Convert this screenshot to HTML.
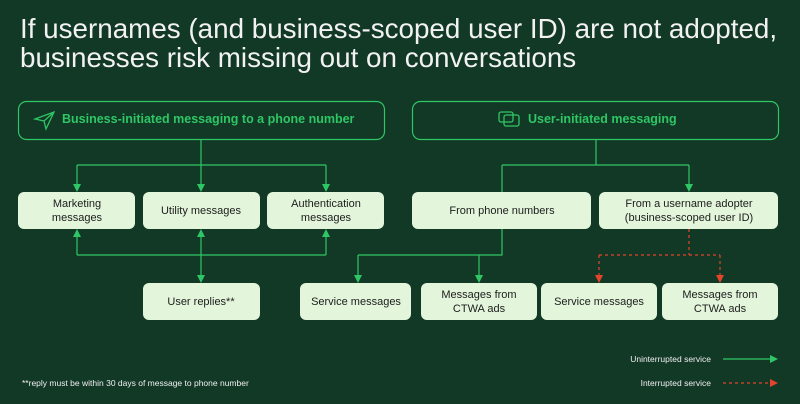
<!DOCTYPE html>
<html><head><meta charset="utf-8"><style>
html,body{margin:0;padding:0;background:#123826;}
svg{display:block;font-family:"Liberation Sans",sans-serif;}
</style></head><body>
<svg width="800" height="404" viewBox="0 0 800 404" xmlns="http://www.w3.org/2000/svg">
<defs>
<marker id="g" markerWidth="8" markerHeight="8" refX="4" refY="4" orient="auto" markerUnits="userSpaceOnUse"><path d="M0,0 L8,4 L0,8 z" fill="#2fc665"/></marker>
<marker id="r" markerWidth="8" markerHeight="8" refX="4" refY="4" orient="auto" markerUnits="userSpaceOnUse"><path d="M0,0 L8,4 L0,8 z" fill="#e2452b"/></marker>
</defs>
<rect width="800" height="404" fill="#123826"/>
<text x="20" y="38" font-size="27.8" fill="#f2f2f2">If usernames (and business-scoped user ID) are not adopted,</text>
<text x="20" y="67" font-size="27.8" fill="#f2f2f2">businesses risk missing out on conversations</text>

<g fill="none" stroke="#2fc665" stroke-width="1.2">
<rect x="18.5" y="101.5" width="366" height="38" rx="8"/>
<rect x="412.5" y="101.5" width="366" height="38" rx="8"/>
</g>
<g fill="none" stroke="#2fc665" stroke-width="1.3">
<path d="M35,119 L54,112 L46,129 L44,121 Z M44,121 L54,112"/>
<rect x="499" y="112" width="14" height="10" rx="2"/>
<rect x="504" y="115" width="15" height="11" rx="2"/>
</g>
<text x="62" y="123" font-size="12.5" font-weight="bold" fill="#2fc665">Business-initiated messaging to a phone number</text>
<text x="528" y="123" font-size="12.5" font-weight="bold" fill="#2fc665">User-initiated messaging</text>

<g fill="#e3f6db">
<rect x="18" y="192" width="117" height="37" rx="6"/>
<rect x="143" y="192" width="117" height="37" rx="6"/>
<rect x="267" y="192" width="117" height="37" rx="6"/>
<rect x="412" y="192" width="179" height="37" rx="6"/>
<rect x="599" y="192" width="179" height="37" rx="6"/>
<rect x="143" y="283" width="117" height="37" rx="6"/>
<rect x="300" y="283" width="111" height="37" rx="6"/>
<rect x="421" y="283" width="116" height="37" rx="6"/>
<rect x="541" y="283" width="116" height="37" rx="6"/>
<rect x="662" y="283" width="116" height="37" rx="6"/>
</g>
<g font-size="11" fill="#1c1c1c" text-anchor="middle">
<text x="77" y="207">Marketing</text><text x="77" y="221">messages</text>
<text x="201" y="214">Utility messages</text>
<text x="326" y="207">Authentication</text><text x="326" y="221">messages</text>
<text x="502" y="214">From phone numbers</text>
<text x="689" y="207">From a username adopter</text><text x="689" y="221">(business-scoped user ID)</text>
<text x="201" y="305">User replies**</text>
<text x="356" y="305">Service messages</text>
<text x="479" y="298">Messages from</text><text x="479" y="312">CTWA ads</text>
<text x="599" y="305">Service messages</text>
<text x="720" y="298">Messages from</text><text x="720" y="312">CTWA ads</text>
</g>

<g fill="none" stroke="#2fc665" stroke-width="1.2">
<path d="M201,139 V165 M77,165 H326"/>
<path d="M77,165 V188" marker-end="url(#g)"/>
<path d="M201,165 V188" marker-end="url(#g)"/>
<path d="M326,165 V188" marker-end="url(#g)"/>
<path d="M77,255 H326"/>
<path d="M77,255 V233" marker-end="url(#g)"/>
<path d="M326,255 V233" marker-end="url(#g)"/>
<path d="M201,255 V233" marker-end="url(#g)"/>
<path d="M201,255 V279" marker-end="url(#g)"/>
<path d="M596,139 V165 M502,165 H689 M502,165 V192"/>
<path d="M689,165 V188" marker-end="url(#g)"/>
<path d="M502,229 V255 H358"/>
<path d="M358,255 V279" marker-end="url(#g)"/>
<path d="M479,255 V279" marker-end="url(#g)"/>
<path d="M723,359 H774" marker-end="url(#g)"/>
</g>
<g fill="none" stroke="#e2452b" stroke-width="1.2" stroke-dasharray="3,3">
<path d="M689,229 V255 M599,255 H720"/>
<path d="M599,255 V279" marker-end="url(#r)"/>
<path d="M720,255 V279" marker-end="url(#r)"/>
<path d="M723,383 H774" marker-end="url(#r)"/>
</g>
<g font-size="8.5" fill="#f0f0f0">
<text x="711" y="362" text-anchor="end">Uninterrupted service</text>
<text x="711" y="386" text-anchor="end">Interrupted service</text>
<text x="22" y="386">**reply must be within 30 days of message to phone number</text>
</g>
</svg>
</body></html>
